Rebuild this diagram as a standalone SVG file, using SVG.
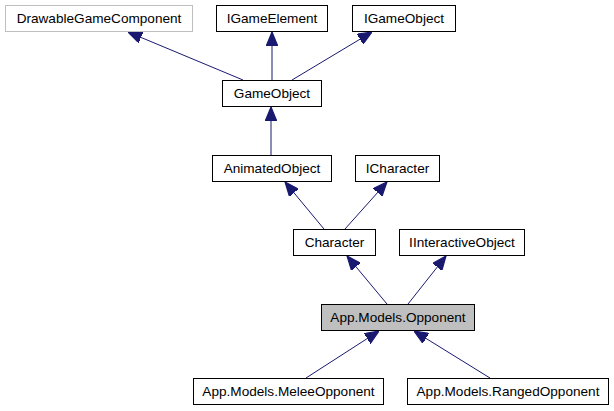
<svg xmlns="http://www.w3.org/2000/svg" width="614" height="411" viewBox="0 0 614 411">
<style>
.n rect{fill:#fff;stroke:#000;stroke-width:1}
.n text{font-family:"Liberation Sans",Arial,sans-serif;font-size:13.6px;text-anchor:middle;fill:#000}
.e line{stroke:#191970;stroke-width:1}
</style>
<defs>
<marker id="ah" markerUnits="userSpaceOnUse" markerWidth="14" markerHeight="12" refX="12" refY="5" orient="auto" viewBox="0 0 12 10">
<polygon points="0,0 12,5 0,10" fill="#191970" stroke="#191970"/>
</marker>
</defs>
<g class="e" id="edges">
<line x1="243" y1="80" x2="128" y2="32" marker-end="url(#ah)"/>
<line x1="272" y1="80" x2="272" y2="32" marker-end="url(#ah)"/>
<line x1="292" y1="80" x2="372" y2="32" marker-end="url(#ah)"/>
<line x1="271" y1="155" x2="271" y2="107" marker-end="url(#ah)"/>
<line x1="324" y1="229" x2="285" y2="182" marker-end="url(#ah)"/>
<line x1="345" y1="229" x2="387" y2="182" marker-end="url(#ah)"/>
<line x1="387" y1="304" x2="347" y2="256" marker-end="url(#ah)"/>
<line x1="408" y1="304" x2="446" y2="256" marker-end="url(#ah)"/>
<line x1="306" y1="378" x2="379" y2="331" marker-end="url(#ah)"/>
<line x1="490" y1="378" x2="414" y2="331" marker-end="url(#ah)"/>
</g>
<g class="n" id="DrawableGameComponent"><rect x="5.5" y="5.5" width="187" height="26" style="stroke:#bfbfbf"/><text x="99" y="23">DrawableGameComponent</text></g>
<g class="n" id="IGameElement"><rect x="216.5" y="5.5" width="111" height="26"/><text x="272" y="23">IGameElement</text></g>
<g class="n" id="IGameObject"><rect x="352.5" y="5.5" width="103" height="26"/><text x="404" y="23">IGameObject</text></g>
<g class="n" id="GameObject"><rect x="222.5" y="80.5" width="99" height="26"/><text x="272" y="98">GameObject</text></g>
<g class="n" id="AnimatedObject"><rect x="212.5" y="155.5" width="119" height="26"/><text x="272" y="173">AnimatedObject</text></g>
<g class="n" id="ICharacter"><rect x="355.5" y="155.5" width="84" height="26"/><text x="397.5" y="173">ICharacter</text></g>
<g class="n" id="Character"><rect x="293.5" y="229.5" width="82" height="26"/><text x="334.5" y="247">Character</text></g>
<g class="n" id="IInteractiveObject"><rect x="399.5" y="229.5" width="125" height="26"/><text x="462" y="247">IInteractiveObject</text></g>
<g class="n" id="Opponent"><rect x="321.5" y="304.5" width="153" height="26" style="fill:#bfbfbf"/><text x="398" y="322">App.Models.Opponent</text></g>
<g class="n" id="MeleeOpponent"><rect x="193.5" y="378.5" width="190" height="26"/><text x="288.5" y="396">App.Models.MeleeOpponent</text></g>
<g class="n" id="RangedOpponent"><rect x="407.5" y="378.5" width="201" height="26"/><text x="508" y="396">App.Models.RangedOpponent</text></g>
</svg>
